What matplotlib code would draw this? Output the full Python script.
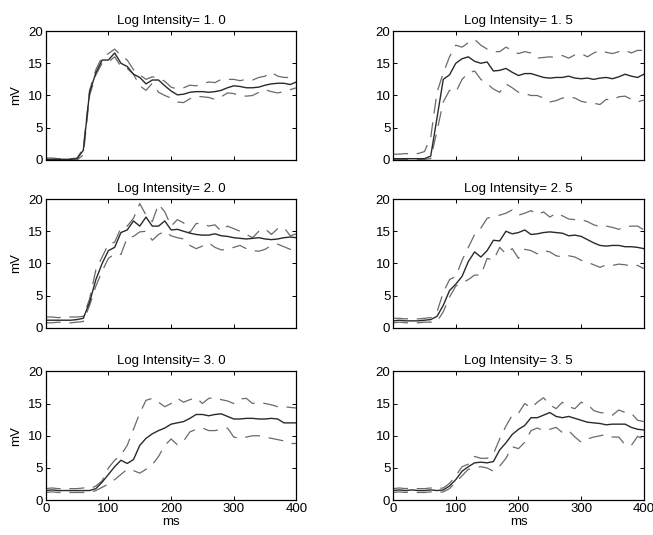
import numpy as np
import matplotlib.pyplot as plt

ms = np.arange(0, 401, 10)
titles = ['Log Intensity= 1. 0', 'Log Intensity= 1. 5', 'Log Intensity= 2. 0',
          'Log Intensity= 2. 5', 'Log Intensity= 3. 0', 'Log Intensity= 3. 5']

# mean response (solid) and upper / lower bounds (dashed), mV
mean_10 = [0.1, 0.1, 0.1, 0.1, 0.1, 0.2, 1.5, 10.5, 13.5, 15.5, 15.5, 16.6, 15.0, 14.5, 13.3, 12.8, 11.8,
           12.4, 12.4, 11.5, 10.7, 10.1, 10.2, 10.5, 10.6, 10.6, 10.5, 10.6, 10.8, 11.2, 11.5, 11.4, 11.2,
           11.2, 11.3, 11.6, 11.8, 11.9, 11.9, 11.7, 12.1]
upper_10 = [0.3, 0.3, 0.2, 0.2, 0.2, 0.3, 1.8, 10.8, 14.0, 16.0, 16.5, 17.2, 16.2, 15.5, 14.0, 13.2, 12.5,
            12.9, 12.7, 12.2, 11.3, 11.0, 11.2, 11.6, 11.5, 11.8, 12.1, 12.0, 12.5, 12.5, 12.5, 12.3, 12.5,
            12.4, 12.8, 13.0, 13.6, 13.0, 12.8, 12.8, 13.0]
lower_10 = [0.0, 0.0, 0.0, 0.0, 0.0, 0.0, 0.8, 10.0, 13.2, 15.0, 15.2, 16.0, 14.5, 14.2, 13.3, 11.5, 10.8,
            11.9, 10.5, 10.0, 9.6, 9.0, 8.9, 9.5, 9.9, 9.8, 9.7, 9.4, 9.8, 10.4, 10.3, 10.0, 9.9,
            10.0, 10.5, 10.9, 10.6, 10.4, 10.6, 10.9, 11.2]

mean_15 = [0.2, 0.2, 0.2, 0.2, 0.2, 0.2, 0.6, 6.5, 12.5, 13.2, 15.0, 15.7, 16.0, 15.3, 15.0, 15.2, 13.8,
           13.9, 14.2, 13.6, 13.1, 13.4, 13.4, 13.1, 12.8, 12.7, 12.8, 12.8, 13.0, 12.7, 12.6, 12.7, 12.5,
           12.7, 12.8, 12.6, 12.9, 13.3, 13.0, 12.8, 13.3]
upper_15 = [0.9, 0.9, 1.0, 0.9, 1.0, 1.3, 3.5, 10.5, 13.5, 16.0, 17.8, 17.5, 18.2, 18.7, 17.8, 17.2, 16.8,
            16.8, 17.5, 17.0, 16.5, 16.8, 16.6, 15.8, 15.9, 16.0, 15.9, 16.2, 15.8, 16.3, 16.5, 16.0, 16.6,
            17.0, 16.7, 16.5, 16.8, 17.0, 16.6, 17.0, 17.0]
lower_15 = [0.1, 0.1, 0.1, 0.1, 0.1, 0.1, 0.2, 4.5, 9.0, 10.8, 10.5, 12.5, 13.5, 13.8, 12.5, 11.8, 11.0,
            10.5, 11.8, 11.2, 10.5, 10.3, 10.0, 10.0, 9.6, 9.0, 9.2, 9.6, 9.8, 9.6, 9.1, 8.9, 8.8,
            8.6, 9.4, 9.3, 9.8, 9.9, 9.4, 9.0, 9.3]

mean_20 = [1.2, 1.2, 1.2, 1.2, 1.2, 1.3, 1.5, 4.0, 7.5, 10.0, 12.0, 12.5, 14.8, 15.2, 16.6, 15.8, 17.2,
           15.8, 15.8, 16.6, 15.2, 15.3, 15.0, 14.7, 14.5, 14.4, 14.4, 14.6, 14.3, 14.2, 14.0, 13.9, 13.8,
           13.9, 14.0, 13.8, 13.7, 13.8, 14.0, 14.1, 14.0]
upper_20 = [1.7, 1.7, 1.6, 1.7, 1.7, 1.7, 1.8, 4.5, 9.0, 11.0, 13.0, 13.3, 15.5, 15.8, 17.0, 19.3, 17.5,
            16.5, 19.2, 18.0, 15.8, 16.8, 16.3, 14.8, 16.2, 16.2, 15.8, 16.0, 15.0, 15.8, 15.4, 15.0, 14.5,
            14.0, 15.0, 15.4, 14.5, 15.4, 15.6, 14.3, 14.6]
lower_20 = [0.8, 0.8, 0.9, 0.8, 0.8, 0.9, 1.0, 3.5, 6.5, 8.8, 10.8, 11.5, 11.4, 14.0, 14.2, 14.9, 15.0,
            13.6, 14.5, 15.0, 14.3, 14.0, 13.8, 12.8, 12.3, 12.7, 13.2, 12.5, 12.1, 12.2, 12.5, 12.8, 12.3,
            12.0, 11.9, 12.2, 12.8, 13.0, 12.6, 12.2, 12.0]

mean_25 = [1.1, 1.2, 1.1, 1.1, 1.1, 1.2, 1.3, 1.8, 3.5, 5.8, 6.8, 8.0, 10.3, 11.8, 11.0, 12.0, 13.6,
           13.5, 15.0, 14.6, 14.8, 15.2, 14.5, 14.6, 14.8, 14.9, 14.8, 14.7, 14.3, 14.4, 14.2, 13.7, 13.2,
           12.8, 12.7, 12.8, 12.8, 12.6, 12.6, 12.5, 12.3]
upper_25 = [1.5, 1.5, 1.4, 1.5, 1.4, 1.5, 1.6, 2.5, 5.5, 7.5, 8.0, 10.5, 12.5, 14.5, 15.5, 17.0, 17.3,
            17.5, 17.8, 18.3, 17.5, 17.8, 18.2, 17.6, 18.0, 17.2, 17.8, 17.4, 16.9, 16.8, 16.8, 16.5, 16.0,
            15.7, 15.8, 15.6, 15.3, 15.7, 15.8, 15.8, 15.2]
lower_25 = [0.8, 0.9, 0.8, 0.8, 0.8, 0.9, 0.9, 1.0, 2.5, 4.8, 6.5, 7.0, 7.5, 8.2, 8.2, 10.8, 10.5,
            12.5, 11.5, 12.3, 10.8, 12.2, 12.0, 11.5, 12.0, 11.8, 11.2, 11.0, 11.2, 11.0, 10.5, 10.2, 9.8,
            9.4, 9.8, 9.7, 9.9, 9.8, 9.6, 9.7, 9.2]

mean_30 = [1.5, 1.6, 1.5, 1.5, 1.5, 1.5, 1.5, 1.5, 1.8, 2.8, 4.0, 5.2, 6.2, 5.7, 6.3, 8.5, 9.6,
           10.3, 10.8, 11.2, 11.8, 12.0, 12.2, 12.7, 13.3, 13.3, 13.1, 13.3, 13.4, 13.0, 12.6, 12.6, 12.7,
           12.7, 12.6, 12.6, 12.7, 12.6, 12.0, 12.0, 12.0]
upper_30 = [1.8, 1.9, 1.8, 1.8, 1.8, 1.8, 1.9, 1.8, 2.2, 3.0, 5.0, 6.2, 7.0, 8.5, 11.0, 13.5, 15.5,
            15.8, 15.2, 14.5, 15.0, 15.8, 15.2, 15.6, 15.9, 15.0, 15.8, 15.9, 15.6, 15.4, 15.0, 15.7, 15.8,
            15.0, 15.2, 15.0, 14.8, 14.5, 14.5, 14.4, 14.3]
lower_30 = [1.2, 1.3, 1.2, 1.2, 1.2, 1.2, 1.2, 1.2, 1.5, 2.0, 2.5, 3.2, 4.0, 4.8, 4.6, 4.2, 4.8,
            5.5, 6.8, 8.5, 9.5, 8.6, 9.2, 10.6, 11.0, 11.2, 10.8, 10.8, 11.0, 11.2, 9.8, 9.6, 9.8,
            10.0, 10.0, 9.8, 9.6, 9.4, 9.2, 8.8, 8.8]

mean_35 = [1.5, 1.6, 1.5, 1.6, 1.5, 1.5, 1.6, 1.5, 1.6, 2.2, 3.2, 4.5, 5.2, 5.8, 5.9, 5.8, 6.0,
           7.8, 8.9, 10.2, 11.0, 11.6, 12.8, 12.8, 13.2, 13.6, 13.0, 12.8, 13.0, 12.7, 12.4, 12.1, 12.0,
           11.9, 11.7, 11.8, 11.8, 11.8, 11.3, 11.0, 10.9]
upper_35 = [1.8, 1.9, 1.8, 1.9, 1.8, 1.8, 1.9, 1.8, 1.9, 2.6, 3.8, 5.2, 5.6, 6.8, 6.5, 6.5, 7.2,
            9.5, 11.5, 13.2, 13.5, 15.0, 14.3, 15.2, 15.9, 14.8, 14.2, 15.2, 14.5, 14.2, 15.2, 14.9, 13.9,
            13.6, 13.5, 13.2, 14.0, 13.6, 13.5, 12.4, 12.2]
lower_35 = [1.2, 1.3, 1.2, 1.3, 1.2, 1.2, 1.3, 1.2, 1.3, 1.8, 2.8, 3.8, 4.8, 5.0, 5.2, 5.0, 4.5,
            5.3, 6.5, 8.3, 8.0, 9.0, 10.8, 11.2, 10.8, 11.0, 11.3, 10.5, 10.8, 9.8, 9.0, 9.5, 9.8,
            10.0, 10.2, 9.8, 9.8, 8.6, 8.5, 9.9, 9.5]

means = [mean_10, mean_15, mean_20, mean_25, mean_30, mean_35]
uppers = [upper_10, upper_15, upper_20, upper_25, upper_30, upper_35]
lowers = [lower_10, lower_15, lower_20, lower_25, lower_30, lower_35]

plt.rcParams['font.family'] = ['Liberation Sans', 'DejaVu Sans']
fig = plt.figure(figsize=(6.53, 5.35), dpi=100)

lefts = [0.070, 0.602]
bottoms = [0.701, 0.387, 0.065]
for i in range(6):
    row, col = divmod(i, 2)
    ax = fig.add_axes([lefts[col], bottoms[row], 0.384, 0.241])
    ax.plot(ms, uppers[i], color='#6a6a6a', lw=0.9, dashes=(12, 7))
    ax.plot(ms, lowers[i], color='#6a6a6a', lw=0.9, dashes=(12, 7))
    ax.plot(ms, means[i], color='#2a2a2a', lw=1.0)
    ax.set_xlim(0, 400)
    ax.set_ylim(0, 20)
    ax.set_xticks([0, 100, 200, 300, 400])
    ax.set_yticks([0, 5, 10, 15, 20])
    ax.tick_params(direction='in', top=True, right=True, length=3, width=0.7,
                   labelsize=9.5, pad=2)
    for s in ax.spines.values():
        s.set_linewidth(0.9)
    ax.set_title(titles[i], fontsize=9.5, pad=5)
    if col == 0:
        ax.set_ylabel('mV', fontsize=9.5, labelpad=4)
    if row < 2:
        ax.set_xticklabels([])
    else:
        ax.set_xlabel('ms', fontsize=9.5, labelpad=1)

plt.savefig('out.png', dpi=100)
